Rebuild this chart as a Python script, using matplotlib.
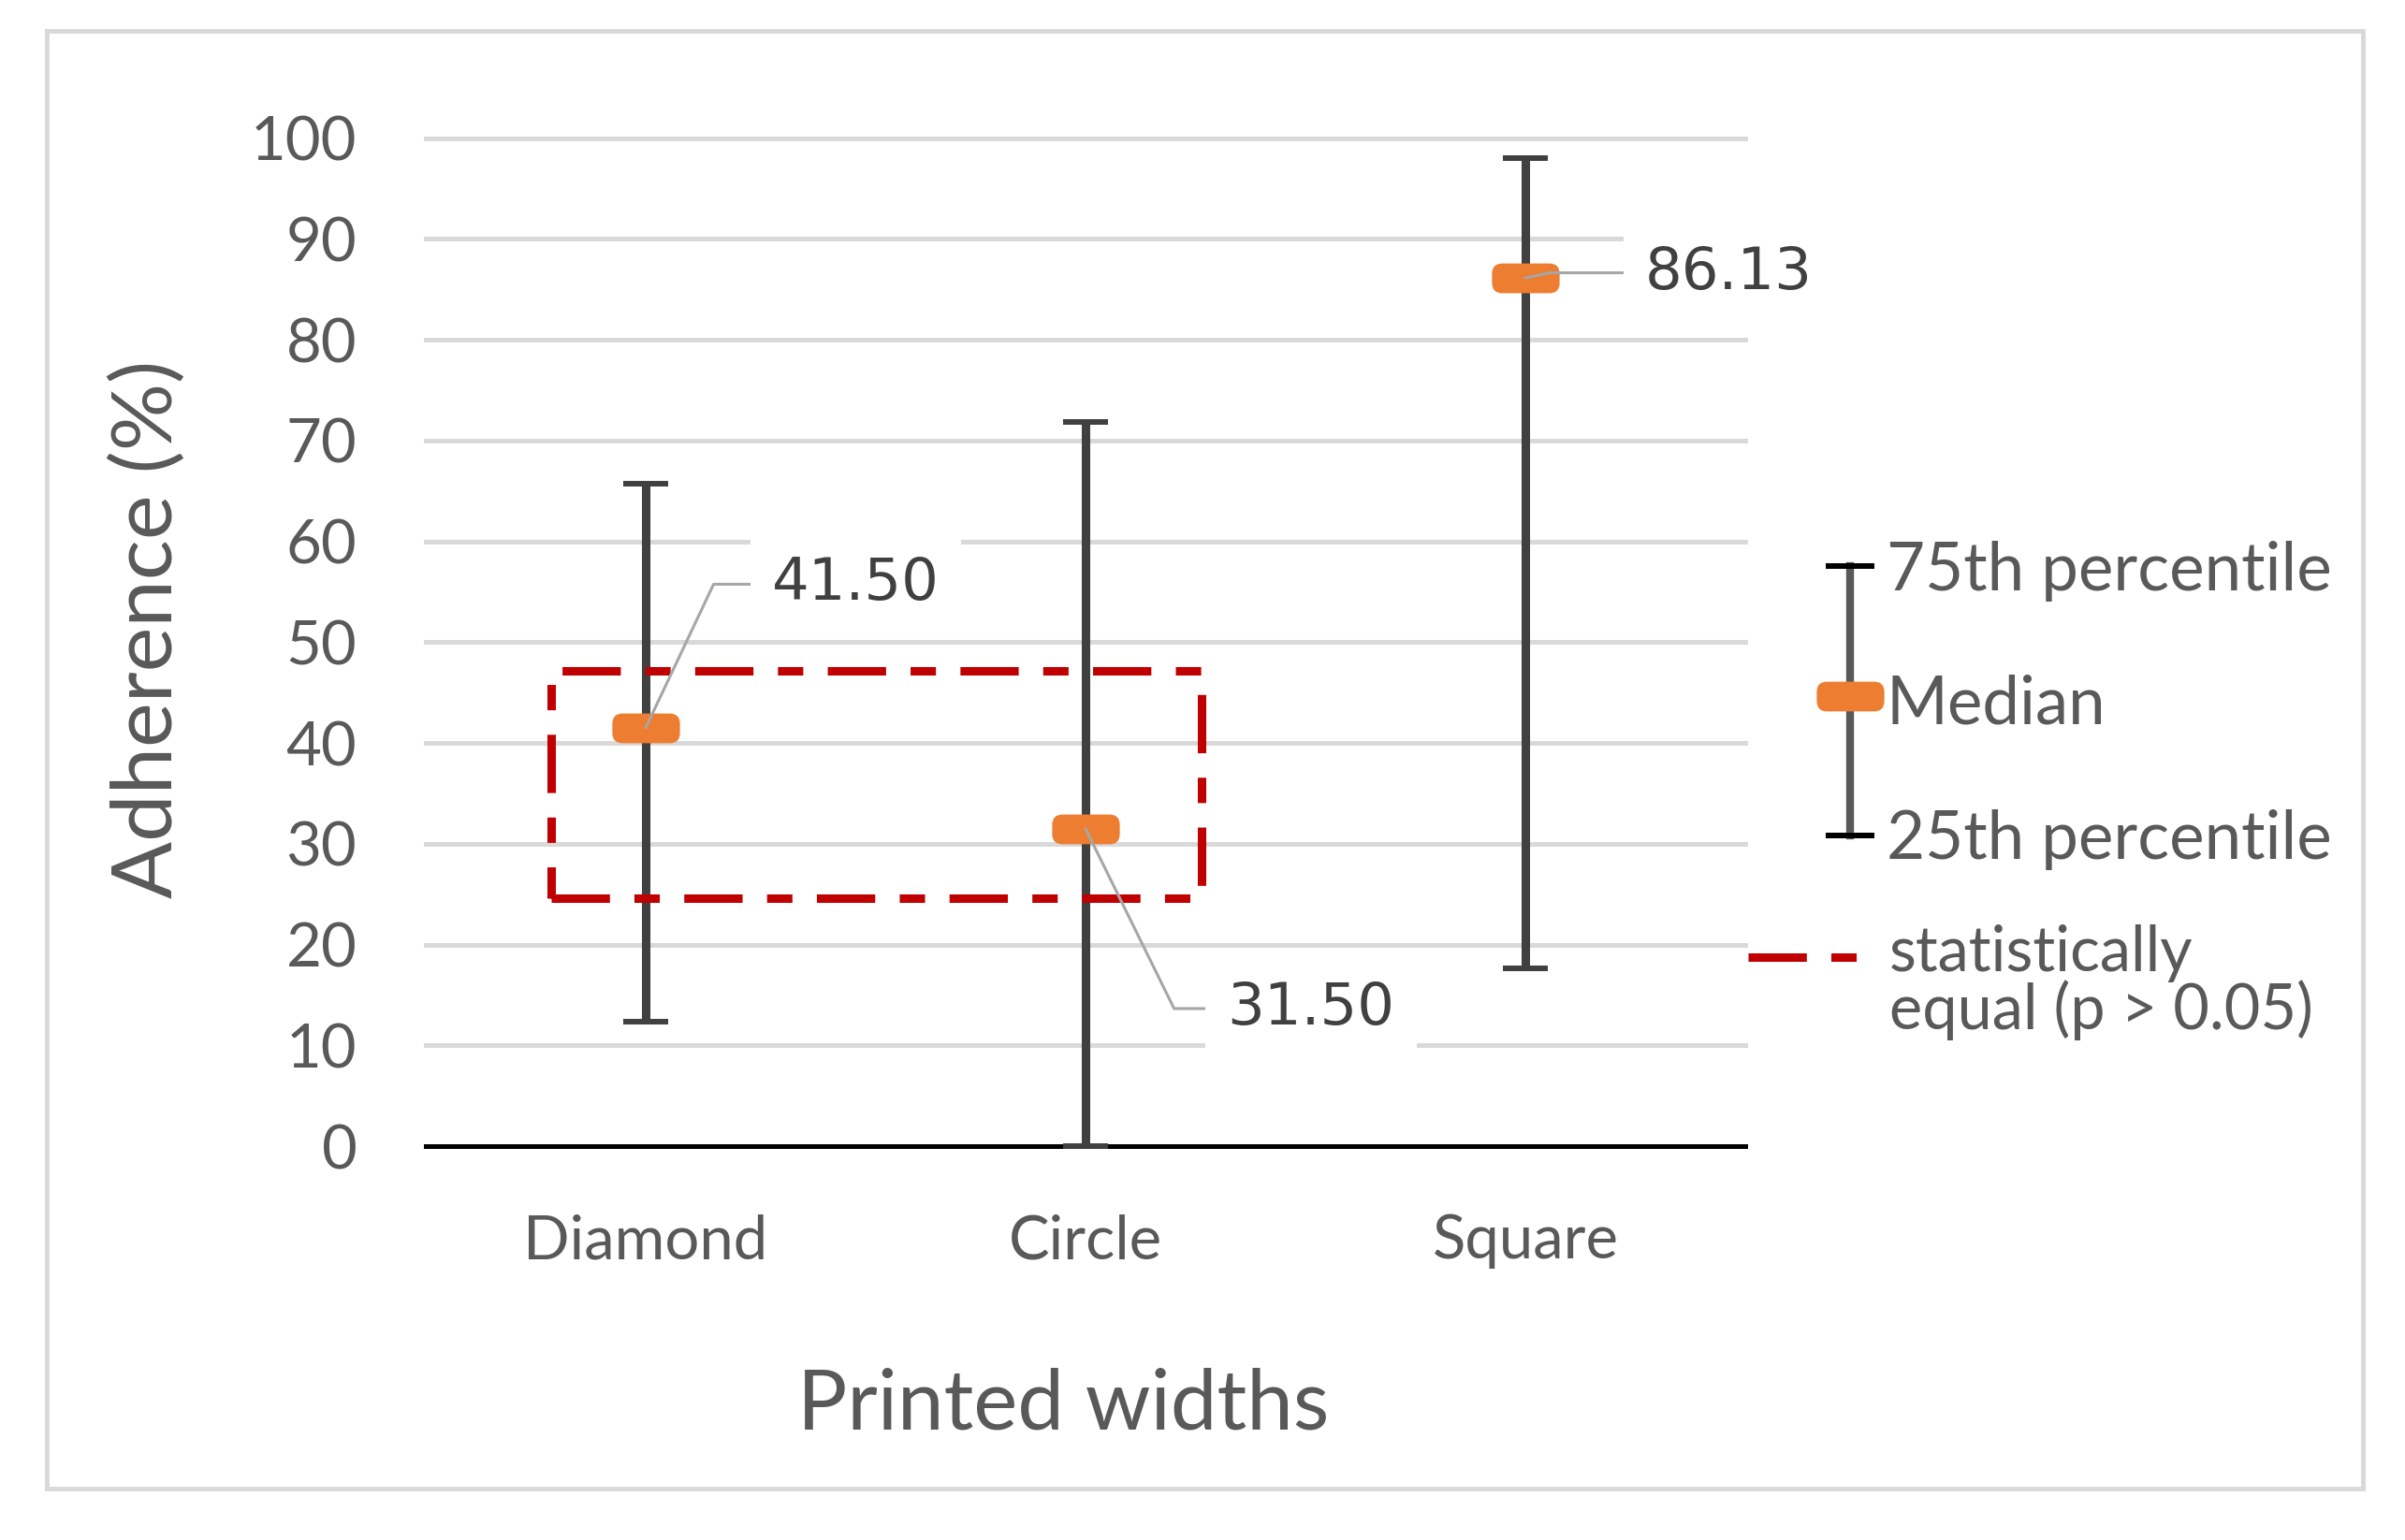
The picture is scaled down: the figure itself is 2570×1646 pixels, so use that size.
import matplotlib
matplotlib.use('Agg')
import numpy as np
import matplotlib.pyplot as plt
from matplotlib.markers import MarkerStyle
from matplotlib.patches import Rectangle, BoxStyle
from matplotlib.lines import Line2D

# ---------------- data ----------------
categories = ['Diamond', 'Circle', 'Square']
p25 = [12.3, 0.0, 17.6]
medians = [41.5, 31.5, 86.13]
p75 = [65.7, 71.8, 98.0]
median_labels = ['41.50', '31.50', '86.13']
y_ticks = [0, 10, 20, 30, 40, 50, 60, 70, 80, 90, 100]
equal_group_x = [-0.215, 1.264]   # extent of the "statistically equal" box (category units)
equal_group_y = [24.6, 47.2]
legend_labels = ['75th percentile', 'Median', '25th percentile']
legend_equal_label = 'statistically\nequal (p > 0.05)'
x_title = 'Printed widths'
y_title = 'Adherence (%)'

# ---------------- styling / layout ----------------
W, H = 2570, 1646
TEXT = '#595959'
ORANGE = '#ED7D31'
RED = '#C00000'
DASH = (0, (6.9, 2.9, 3.0, 2.9))
FONT = 'Lato'
label_offsets = [(97, 110.5), (109, -138.5), (92, 4)]   # points
leader_angles = [64.7, -63.8, 12]

fig = plt.figure(figsize=(W / 100, H / 100), dpi=100)
fig.patch.set_facecolor('white')


def fx(px):
    return px / W


def fy(py):
    return 1 - py / H


# outer frame
fig.add_artist(Rectangle((fx(50), fy(1591)), fx(2525) - fx(50), fy(33) - fy(1591),
                         transform=fig.transFigure, fill=False, ec='#d9d9d9', lw=3.5))

ax = fig.add_axes([fx(455), fy(1225), fx(1865) - fx(455), fy(147.7) - fy(1225)])
x = np.arange(len(categories))
ax.set_xlim(-0.5, len(categories) - 0.5)
ax.set_ylim(0, 100)
ax.set_yticks(y_ticks)
ax.set_xticks(x)
ax.set_xticklabels(categories, fontfamily=FONT)
for lab in ax.get_yticklabels():
    lab.set_fontfamily(FONT)
ax.tick_params(axis='y', length=0, pad=53, labelsize=47, labelcolor=TEXT)
ax.tick_params(axis='x', length=0, pad=52, labelsize=47, labelcolor=TEXT)
for s in ['left', 'right', 'top']:
    ax.spines[s].set_visible(False)
ax.spines['bottom'].set_color('black')
ax.spines['bottom'].set_linewidth(3.6)
ax.spines['bottom'].set_zorder(2.5)
ax.grid(axis='y', color='#d9d9d9', lw=3.6)
ax.set_axisbelow(True)
for gl in ax.get_ygridlines():
    gl.set_clip_on(False)

# error bars (25th-75th percentile)
med = np.array(medians)
yerr = [med - np.array(p25), np.array(p75) - med]
eb = ax.errorbar(x, med, yerr=yerr, fmt='none', ecolor='#404040', elinewidth=6.5,
                 capsize=17, capthick=4.3, zorder=3)
for cap in eb[1]:
    cap.set_color('black')
    cap.set_clip_on(False)
    cap.set_zorder(3.5)
for c in eb[2]:
    c.set_clip_on(False)

# rounded rectangle marker for median
rr_path = BoxStyle.Round(pad=0, rounding_size=0.3)(-1, -0.44, 2, 0.88, 1.0)
mk = MarkerStyle(rr_path)
ax.plot(x, med, ls='none', marker=mk, ms=52, mfc=ORANGE, mec='none', zorder=5, clip_on=False)

# statistically equal box
ax.add_patch(Rectangle((equal_group_x[0], equal_group_y[0]),
                       equal_group_x[1] - equal_group_x[0],
                       equal_group_y[1] - equal_group_y[0],
                       fill=False, ec=RED, lw=6.5, ls=DASH, zorder=4))

# data labels with leader lines
for xi, m, lab, off, ang in zip(x, med, median_labels, label_offsets, leader_angles):
    ax.annotate(lab, xy=(xi, m), xytext=off, textcoords='offset points',
                ha='left', va='center', fontsize=45, family='DejaVu Sans', color='#404040',
                bbox=dict(boxstyle='square,pad=0.37', fc='white', ec='none'),
                arrowprops=dict(arrowstyle='-', color='#a6a6a6', lw=2.2, shrinkA=0, shrinkB=0,
                                relpos=(0, 0.5),
                                connectionstyle=f'angle,angleA=0,angleB={ang},rad=0'),
                zorder=6, annotation_clip=False)

# axis titles
fig.text(fx(159), fy(672), y_title, rotation=90, ha='center', va='center',
         fontsize=65, family=FONT, color=TEXT)
fig.text(fx(1136), fy(1503), x_title, ha='center', va='center',
         fontsize=64, family=FONT, color=TEXT)

# ---------------- custom legend ----------------
lx = 1977
fig.add_artist(Line2D([fx(lx), fx(lx)], [fy(605), fy(893)], color='#595959', lw=6,
                      transform=fig.transFigure))
for yy in (605, 893):
    fig.add_artist(Line2D([fx(lx - 23), fx(lx + 23)], [fy(yy), fy(yy)], color='black', lw=4.3,
                          transform=fig.transFigure))
fig.add_artist(Line2D([fx(lx)], [fy(744)], ls='none', marker=mk, ms=52, mfc=ORANGE, mec='none',
                      transform=fig.transFigure))
for lab, yb in zip(legend_labels, (631, 774, 918)):
    fig.text(fx(2016), fy(yb), lab, ha='left', va='baseline', fontsize=51, family=FONT, color=TEXT)
fig.add_artist(Line2D([fx(1868), fx(1988)], [fy(1023), fy(1023)], color=RED, lw=6.5, ls=DASH,
                      transform=fig.transFigure))
fig.text(fx(2019), fy(1050), legend_equal_label, ha='left', va='center', fontsize=48,
         family=FONT, color=TEXT, linespacing=0.95)

fig.savefig('out.png', dpi=100, facecolor='white')
